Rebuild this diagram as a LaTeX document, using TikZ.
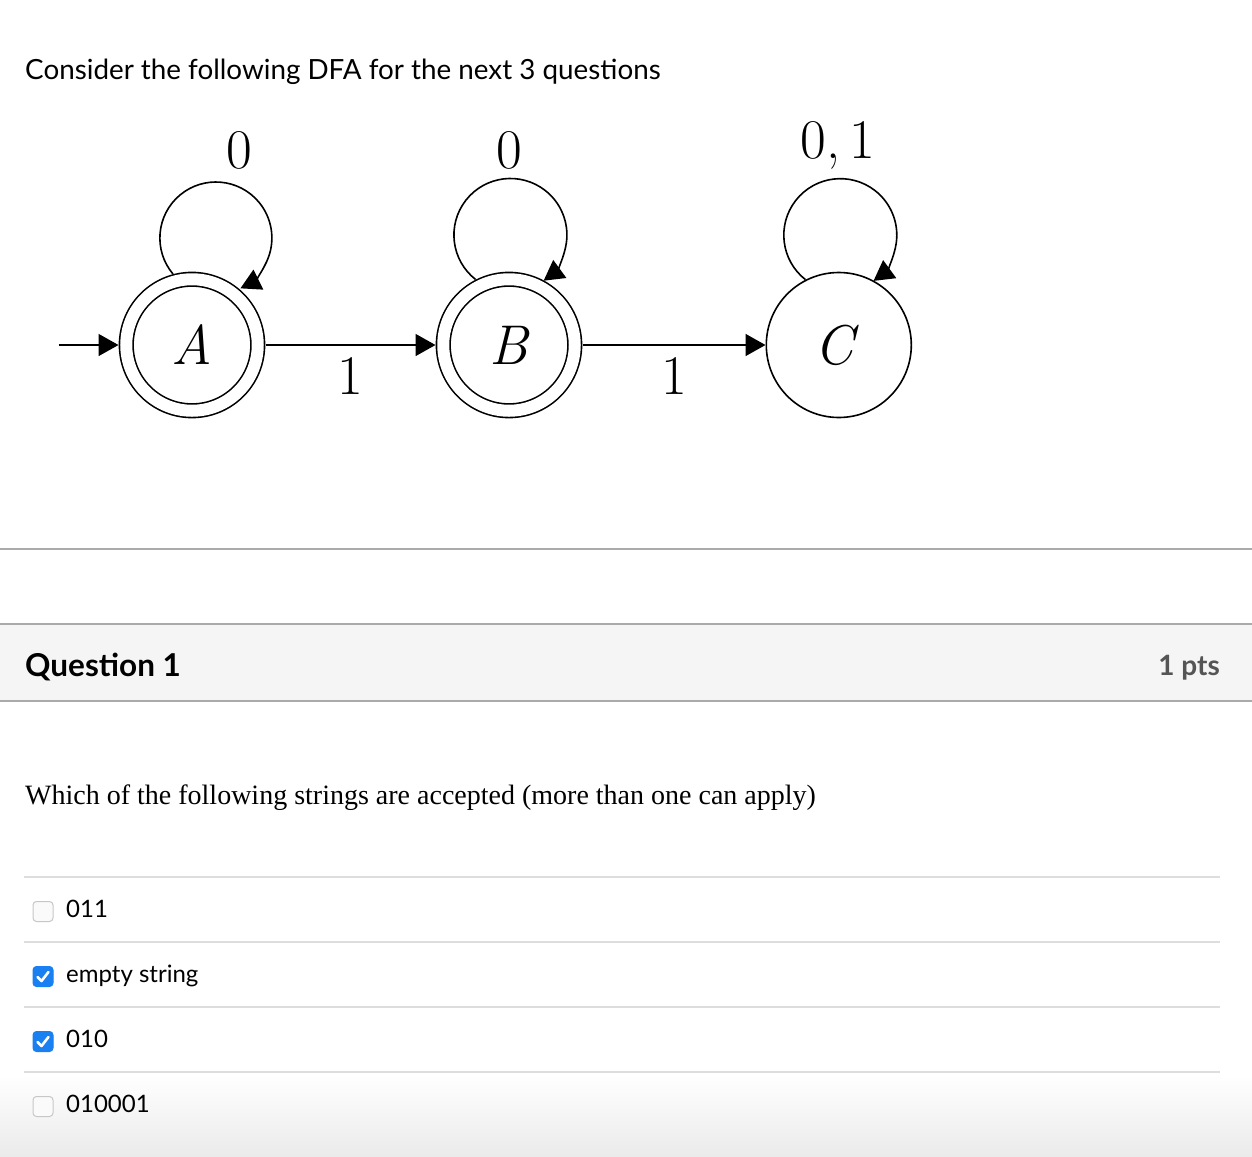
\documentclass[tikz,border=0pt]{standalone}
\usepackage{fontspec}
\newfontfamily\lato{Lato}
\newfontfamily\quizserif{Liberation Serif}
\usepackage{tikz}
\usetikzlibrary{arrows.meta}
\usetikzlibrary{automata}
\usetikzlibrary{positioning}
\definecolor{rulegray}{HTML}{AAAAAA}
\definecolor{headbg}{HTML}{F5F5F5}
\definecolor{optrule}{HTML}{DDDDDD}
\definecolor{ptsgray}{HTML}{555555}
\definecolor{chkblue}{HTML}{1A7FF0}

\begin{document}
\begin{tikzpicture}[
  x=1pt,y=1pt,
  -,>={Triangle[length=20pt,width=22pt]},
  lbl/.style={inner sep=0pt,font=\fontsize{56}{60}\selectfont},
  txt/.style={inner sep=0pt,anchor=base west,font=\lato\fontsize{27.8}{32}\selectfont},
  opt/.style={inner sep=0pt,anchor=base west,font=\lato\fontsize{24}{28}\selectfont},
  boxoff/.style={rectangle,draw=black!22,fill=black!2,line width=1pt,rounded corners=3.5pt,minimum size=20pt,inner sep=0pt},
  boxon/.style={boxoff,draw=chkblue,fill=chkblue},
  chkmark/.style={draw=white,line width=2.6pt,line cap=round,line join=round}]
      \tikzstyle{every state}=[draw=black,circle,inner sep=0pt,minimum size=145pt,line width=1.6pt,font=\fontsize{56}{60}\selectfont\itshape]
      \tikzstyle{accepting by double}=[double,double distance=12pt,minimum size=131.5pt,outer sep=7.75pt]

  \useasboundingbox (0,0) rectangle (1252,-1156);
  \fill[white] (0,0) rectangle (1252,-1156);
  \shade[top color=white,bottom color=black!8] (0,-1075) rectangle (1252,-1156);

  \node[txt] (intro) at (25,-79) {Consider the following DFA for the next 3 questions};

  % the automaton
  \node[state,accepting] (A) at (192,-345) {A};
  \node[state,accepting,right=170pt of A] (B) {B};
  \node[state,right=183pt of B] (C) {\hspace*{-10pt}C};
  \coordinate[left=60pt of A] (start);

  \draw[->,line width=1.6pt] (start) -- (A);
  \draw[->,line width=1.6pt] (A) -- node[lbl,below=12pt] (oneab) {1} (B);
  \draw[->,line width=1.6pt] (B) -- node[lbl,below=12pt] (onebc) {1} (C);

  \draw[->,line width=1.6pt] (A.105) arc[start angle=220,end angle=-64,radius=56];
  \draw[->,line width=1.6pt] (B.117) arc[start angle=232,end angle=-54,radius=56.5];
  \draw[->,line width=1.6pt] (C.117) arc[start angle=232,end angle=-54,radius=56.5];

  \node[lbl,anchor=base] (loopa) at (239,-168) {0};
  \node[lbl,anchor=base] (loopb) at (509,-168) {0};
  \node[lbl,anchor=base] (loopc) at (838,-158) {0,\,1};

  % question header
  \draw[rulegray,line width=2pt] (0,-549) -- (1252,-549);
  \fill[headbg] (0,-624) rectangle (1252,-701);
  \draw[rulegray,line width=2pt] (0,-624) -- (1252,-624) (0,-701) -- (1252,-701);
  \node[txt,font=\lato\bfseries\fontsize{31.5}{36}\selectfont] (qhead) at (25,-676) {Question 1};
  \node[txt,anchor=base east,text=ptsgray,font=\lato\bfseries\fontsize{28}{32}\selectfont] (pts) at (1220,-675) {1 pts};

  \node[txt,font=\quizserif\fontsize{28}{32}\selectfont] (ask) at (25,-804) {Which of the following strings are accepted (more than one can apply)};

  % answers
  \draw[optrule,line width=2pt] (24,-877) -- (1220,-877);
  \draw[optrule,line width=2pt] (24,-942) -- (1220,-942);
  \draw[optrule,line width=2pt] (24,-1007) -- (1220,-1007);
  \draw[optrule,line width=2pt] (24,-1072) -- (1220,-1072);

  \node[boxoff] (box1) at (43,-911.5) {};
  \node[boxon] (box2) at (43,-976.5) {};
  \node[boxon] (box3) at (43,-1041.5) {};
  \node[boxoff] (box4) at (43,-1106.5) {};
  \draw[chkmark] ([shift={(-5.5,-0.5)}]box2.center) -- ([shift={(-1.5,-4.5)}]box2.center) -- ([shift={(5.5,4.5)}]box2.center);
  \draw[chkmark] ([shift={(-5.5,-0.5)}]box3.center) -- ([shift={(-1.5,-4.5)}]box3.center) -- ([shift={(5.5,4.5)}]box3.center);

  \node[opt] (ans1) at (66,-917) {011};
  \node[opt] (ans2) at (66,-982) {empty string};
  \node[opt] (ans3) at (66,-1047) {010};
  \node[opt] (ans4) at (66,-1112) {010001};

  \end{tikzpicture}
\end{document}
